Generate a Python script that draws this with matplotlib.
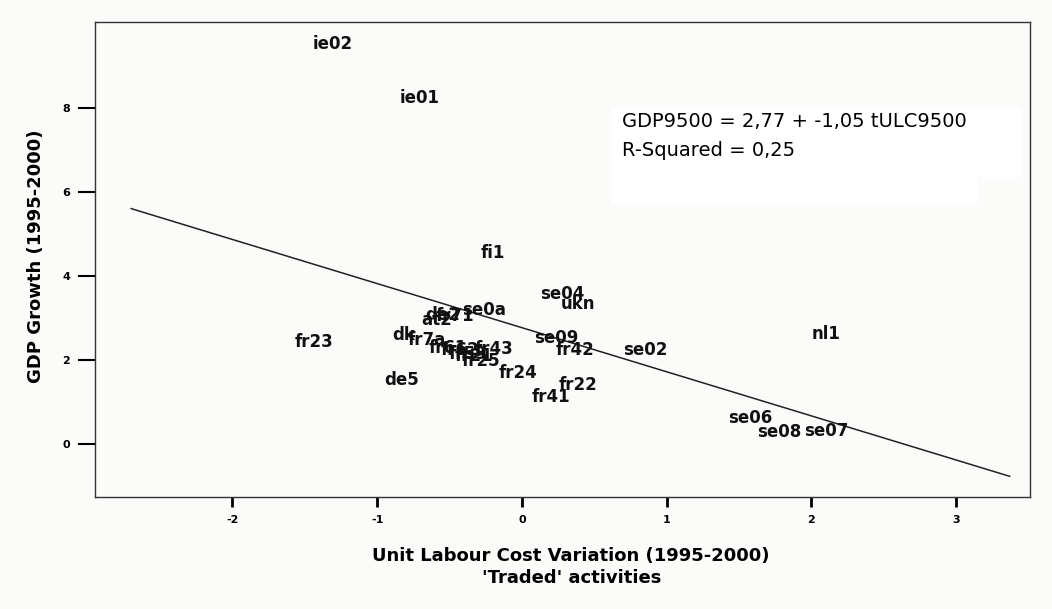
import numpy as np
import matplotlib.pyplot as plt

plt.rcParams['axes.unicode_minus'] = False

# =====================================
# Data
# =====================================
labels = ['ie02', 'ie01', 'fi1', 'se04', 'ukn', 'nl1', 'fr23', 'se02', 'se09',
          'fr42', 'de5', 'fr24', 'fr22', 'fr41', 'se06', 'se08', 'se07', 'dk',
          'fr7a', 'at2', 'de2', 'fr71', 'se0a', 'fr61', 'fr62', 'fr43', 'fr53',
          'fr25', 'fr21']
ulc = [-1.31, -0.705, -0.20, 0.28, 0.39, 2.10, -1.44, 0.85, 0.24,
       0.37, -0.83, -0.03, 0.39, 0.20, 1.58, 1.78, 2.10, -0.82,
       -0.66, -0.59, -0.55, -0.46, -0.26, -0.51, -0.43, -0.19, -0.37,
       -0.28, -0.33]
gdp = [9.52, 8.24, 4.55, 3.57, 3.33, 2.62, 2.43, 2.24, 2.52,
       2.24, 1.52, 1.69, 1.40, 1.12, 0.62, 0.29, 0.31, 2.60,
       2.48, 2.95, 3.07, 3.05, 3.19, 2.29, 2.24, 2.26, 2.14,
       1.98, 2.10]

intercept = 2.77
slope = -1.05
r_squared = 0.25
line_x = [-2.70, 3.37]

x_ticks = [-2, -1, 0, 1, 2, 3]
y_ticks = [0, 2, 4, 6, 8]

# =====================================
# Plot
# =====================================
bg = '#fbfbf9'
fig = plt.figure(figsize=(10.52, 6.09), dpi=100, facecolor=bg)
ax = fig.add_axes([0.0903, 0.184, 0.8887, 0.780], facecolor=bg)

for lab, x, y in zip(labels, ulc, gdp):
    ax.text(x, y, lab, ha='center', va='center', fontsize=12,
            fontweight='bold', family='DejaVu Sans', color='#111111')

lx = np.array(line_x)
ax.plot(lx, intercept + slope * lx, color='#222222', lw=1.1)

ax.set_xlim(-2.95, 3.51)
ax.set_ylim(-1.26, 10.05)
ax.set_xticks(x_ticks)
ax.set_yticks(y_ticks)
ax.tick_params(axis='y', length=12, width=1.5, labelsize=8, pad=6)
ax.tick_params(axis='x', length=7, width=2, labelsize=8, pad=6)
for t in ax.get_xticklabels() + ax.get_yticklabels():
    t.set_fontweight('bold')
    t.set_family('Liberation Sans Narrow')
for s in ax.spines.values():
    s.set_linewidth(1.0)
    s.set_color('#333333')

# equation box
ax.add_patch(plt.Rectangle((0.622, 6.357), 2.836, 1.643, facecolor='white',
                           edgecolor='none', zorder=3))
ax.add_patch(plt.Rectangle((0.622, 5.69), 2.525, 0.70, facecolor='white',
                           edgecolor='none', zorder=3))
eq = f'GDP9500 = {intercept:.2f} + {slope:.2f} tULC9500'.replace('.', ',')
ax.text(0.69, 7.69, eq, fontsize=14, family='DejaVu Sans', va='center', zorder=4)
ax.text(0.69, 7.0, f'R-Squared = {r_squared:.2f}'.replace('.', ','),
        fontsize=14, family='DejaVu Sans', va='center', zorder=4)

fig.text(0.034, 0.58, 'GDP Growth (1995-2000)', rotation=90, ha='center',
         va='center', fontsize=13, fontweight='bold', family='DejaVu Sans')
fig.text(0.543, 0.069, "Unit Labour Cost Variation (1995-2000)\n'Traded' activities",
         ha='center', va='center', fontsize=13, fontweight='bold',
         family='DejaVu Sans', linespacing=1.35)

plt.savefig('out.png', dpi=100, facecolor=bg)
